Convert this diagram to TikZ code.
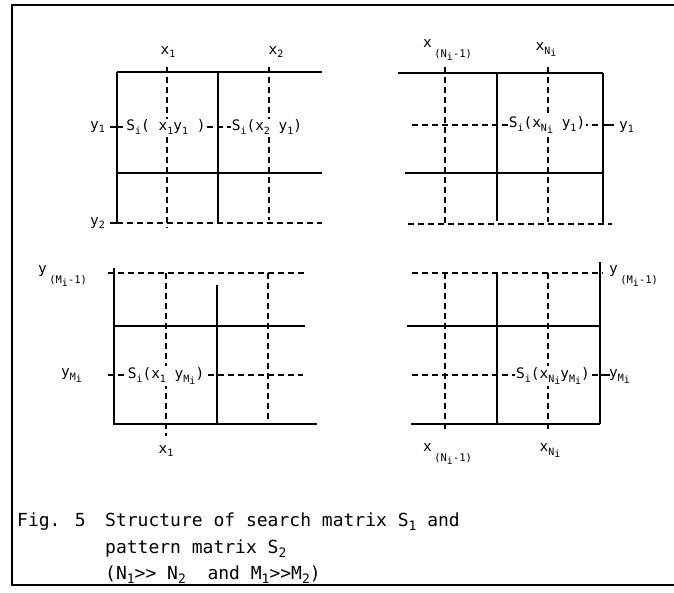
\documentclass[tikz,border=0pt]{standalone}
\usepackage{fontspec}
\setmainfont[Ligatures=NoCommon]{DejaVu Sans Mono}
\newcommand\sbs[1]{\raisebox{-0.45ex}{\fontsize{10}{10}\selectfont #1}}
\newcommand\lsbs[1]{\raisebox{-1.3ex}{\fontsize{10.5}{10.5}\selectfont #1}}
\newcommand\csbs[1]{\raisebox{-0.5ex}{\fontsize{13}{13}\selectfont #1}}
\begin{document}
\begin{tikzpicture}[x=1pt,y=-1pt,
  sol/.style={line width=1.4pt},
  dsh/.style={line width=1.1pt,dash pattern=on 6pt off 4pt},
  lab/.style={inner sep=1pt,font=\fontsize{14.5}{14.5}\selectfont},
  cell/.style={lab,fill=white},
  captxt/.style={inner sep=0pt,anchor=base west,font=\fontsize{18}{18}\selectfont}]
\useasboundingbox (0,0) rectangle (674,592);
% frame
\draw[sol] (674,5) -- (12,5) -- (12,585) -- (674,585);

% ---------- top-left grid ----------
\draw[sol] (117,72) -- (322,72) (117,173) -- (322,173) (117,72) -- (117,223)
           (218,72) -- (218,223) (110,127) -- (117,127) (110,223) -- (117,223);
\draw[dsh] (117,223) -- (322,223) (117,127) -- (300,127)
           (167,67) -- (167,228) (269,67) -- (269,220);
\node[lab] (tlx1) at (168,52) {x\sbs{1}};
\node[lab] (tlx2) at (276,52) {x\sbs{2}};
\node[lab,anchor=east] (tly1) at (106,127) {y\sbs{1}};
\node[lab,anchor=east] (tly2) at (106,223) {y\sbs{2}};
\node[cell] (s11) at (166,127) {S\sbs{i}( x\sbs{1}y\sbs{1} )};
\node[cell] (s21) at (267,127) {S\sbs{i}(x\sbs{2} y\sbs{1})};

% ---------- top-right grid ----------
\draw[sol] (398,73) -- (603,73) (405,173) -- (603,173) (603,73) -- (603,224)
           (497,73) -- (497,221) (603,125) -- (614,125);
\draw[dsh] (408,224) -- (612,224) (412,125) -- (603,125)
           (445,67) -- (445,224) (548,67) -- (548,222);
\node[lab,anchor=west] (trxa) at (422,50) {x\,\lsbs{(N\sbs{i}-1)}};
\node[lab] (trxb) at (546,50) {x\sbs{N\sbs{i}}};
\node[lab,anchor=west] (try1) at (618,127) {y\sbs{1}};
\node[cell] (sn1) at (547,125) {S\sbs{i}(x\sbs{N\sbs{i}} y\sbs{1})};

% ---------- bottom-left grid ----------
\draw[sol] (114,268) -- (114,425) (114,326) -- (305,326) (113,424) -- (317,424)
           (217,285) -- (217,424);
\draw[dsh] (108,273) -- (307,273) (166,273) -- (166,436) (268,273) -- (268,424)
           (108,375) -- (303,375);
\node[lab,anchor=west] (blya) at (37,276) {y\,\lsbs{(M\sbs{i}-1)}};
\node[lab,anchor=west] (blyb) at (60,376) {y\sbs{M\sbs{i}}};
\node[lab] (blx1) at (166,451) {x\sbs{1}};
\node[cell] (s1m) at (166,376) {S\sbs{i}(x\sbs{1} y\sbs{M\sbs{i}})};

% ---------- bottom-right grid ----------
\draw[sol] (600,262) -- (600,424) (407,326) -- (600,326) (411,424) -- (600,424)
           (497,273) -- (497,424) (600,375) -- (610,375);
\draw[dsh] (412,273) -- (603,273) (445,273) -- (445,430) (548,273) -- (548,430)
           (412,375) -- (600,375);
\node[lab,anchor=west] (brya) at (608,276) {y\,\lsbs{(M\sbs{i}-1)}};
\node[lab,anchor=west] (bryb) at (608,377) {y\sbs{M\sbs{i}}};
\node[lab,anchor=west] (brxa) at (422,454) {x\,\lsbs{(N\sbs{i}-1)}};
\node[lab] (brxb) at (550,451) {x\sbs{N\sbs{i}}};
\node[cell] (snm) at (553,376) {S\sbs{i}(x\sbs{N\sbs{i}}y\sbs{M\sbs{i}})};

% ---------- caption ----------
\node[captxt] (fig) at (17,526) {Fig. 5};
\node[captxt] (c1) at (105,526) {Structure of search matrix S\csbs{1} and};
\node[captxt] (c2) at (105,553) {pattern matrix S\csbs{2}};
\node[captxt] (c3) at (105,579) {(N\csbs{1}>{}> N\csbs{2}\ \ and M\csbs{1}>{}>M\csbs{2})};
\end{tikzpicture}
\end{document}
